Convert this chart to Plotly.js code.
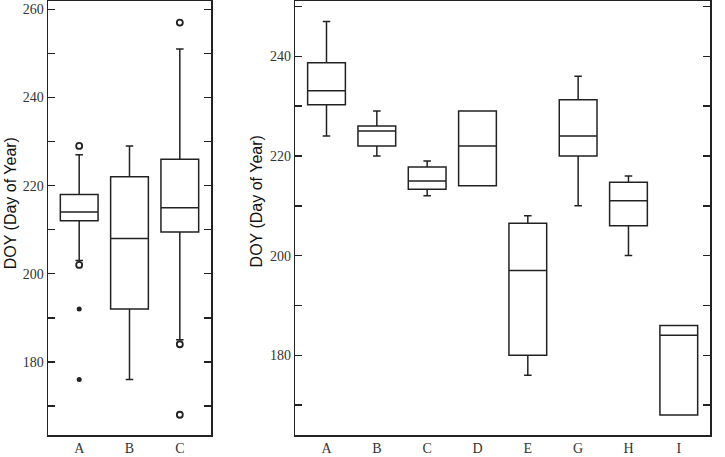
<!DOCTYPE html>
<html>
<head>
<meta charset="utf-8">
<script src="https://cdn.plot.ly/plotly-3.0.1.min.js"></script>
<style>html,body{margin:0;padding:0;background:#fff;}#chart{width:725px;height:457px;}</style>
</head>
<body>
<div id="chart"></div>
<script>
// Left panel
const leftCats = ['A', 'B', 'C'];
const leftQ1 = [212, 192, 209.5];
const leftMedian = [214, 208, 215];
const leftQ3 = [218, 222, 226];
const leftLower = [203, 176, 185];
const leftUpper = [227, 229, 251];
const leftOpenOutX = ['A', 'A', 'C', 'C', 'C'];
const leftOpenOutY = [229, 202, 257, 184, 168];
const leftFilledOutX = ['A', 'A'];
const leftFilledOutY = [192, 176];

// Right panel
const rightCats = ['A', 'B', 'C', 'D', 'E', 'G', 'H', 'I'];
const rightQ1 = [230.3, 222, 213.3, 214, 180, 220, 206, 168];
const rightMedian = [233.1, 225, 215, 222, 197, 224, 211, 184];
const rightQ3 = [238.7, 226, 217.8, 229, 206.5, 231.3, 214.7, 186];
const rightLower = [224, 220, 212, 214, 176, 210, 200, 168];
const rightUpper = [247, 229, 219, 229, 208, 236, 216, 186];

const leftTicks = [170, 180, 190, 200, 210, 220, 230, 240, 250, 260];
const rightTicks = [170, 180, 190, 200, 210, 220, 230, 240, 250];
const labelEvery20 = v => (v % 20 === 0 ? String(v) : '');

const ink = '#222';
const boxStyle = {
  type: 'box', boxpoints: false, fillcolor: 'rgba(0,0,0,0)',
  line: {color: ink, width: 1.5}, whiskerwidth: 0.2, width: 0.75,
  showlegend: false, hoverinfo: 'skip'
};

const traces = [
  Object.assign({}, boxStyle, {
    x: leftCats, q1: leftQ1, median: leftMedian, q3: leftQ3,
    lowerfence: leftLower, upperfence: leftUpper, xaxis: 'x', yaxis: 'y'
  }),
  {
    type: 'scatter', mode: 'markers', x: leftOpenOutX, y: leftOpenOutY,
    marker: {symbol: 'circle-open', size: 6, color: ink, line: {width: 1.8, color: ink}},
    xaxis: 'x', yaxis: 'y', showlegend: false, hoverinfo: 'skip'
  },
  {
    type: 'scatter', mode: 'markers', x: leftFilledOutX, y: leftFilledOutY,
    marker: {symbol: 'circle', size: 5, color: ink},
    xaxis: 'x', yaxis: 'y', showlegend: false, hoverinfo: 'skip'
  },
  Object.assign({}, boxStyle, {
    x: rightCats, q1: rightQ1, median: rightMedian, q3: rightQ3,
    lowerfence: rightLower, upperfence: rightUpper, xaxis: 'x2', yaxis: 'y2'
  })
];

const tickFont = {family: 'Liberation Serif, Times New Roman, serif', size: 14, color: '#333'};
const yBase = {
  showgrid: false, zeroline: false, showline: true, linecolor: ink, linewidth: 1.5,
  mirror: 'ticks', ticks: 'inside', ticklen: 7, tickwidth: 1.5, tickcolor: ink,
  tickfont: tickFont, tickmode: 'array', automargin: false
};
const xBase = {
  type: 'category', showgrid: false, zeroline: false, showline: true, linecolor: ink,
  linewidth: 1.5, mirror: true, ticks: '', tickfont: tickFont, automargin: false
};

const layout = {
  width: 725, height: 457,
  margin: {l: 0, r: 0, t: 1, b: 22},
  paper_bgcolor: '#fff', plot_bgcolor: '#fff',
  showlegend: false,
  xaxis: Object.assign({}, xBase, {domain: [48 / 725, 211 / 725], range: [-0.62, 2.62], anchor: 'y'}),
  yaxis: Object.assign({}, yBase, {range: [163.4, 261.9], tickvals: leftTicks, ticktext: leftTicks.map(labelEvery20), anchor: 'x'}),
  xaxis2: Object.assign({}, xBase, {domain: [295.3 / 725, 710 / 725], range: [-0.62, 7.62], anchor: 'y2'}),
  yaxis2: Object.assign({}, yBase, {range: [164, 251.1], tickvals: rightTicks, ticktext: rightTicks.map(labelEvery20), anchor: 'x2'}),
  annotations: [
    {text: 'DOY (Day of Year)', xref: 'paper', yref: 'paper', x: 10 / 725, y: 1 - 213 / 457,
     textangle: -90, showarrow: false, xanchor: 'center', yanchor: 'middle',
     font: {family: 'Liberation Sans, Arial, sans-serif', size: 16, color: '#111'}},
    {text: 'DOY (Day of Year)', xref: 'paper', yref: 'paper', x: 256 / 725, y: 1 - 211 / 457,
     textangle: -90, showarrow: false, xanchor: 'center', yanchor: 'middle',
     font: {family: 'Liberation Sans, Arial, sans-serif', size: 16, color: '#111'}}
  ]
};

Plotly.newPlot('chart', traces, layout, {staticPlot: true, displayModeBar: false});
</script>
</body>
</html>
